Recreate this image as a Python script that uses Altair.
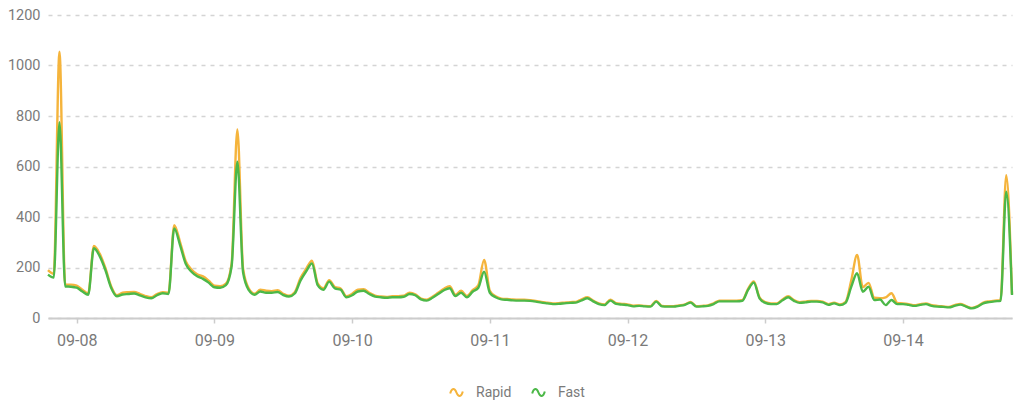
import altair as alt
import pandas as pd

series_names = ["Rapid", "Fast"]
series_colors = ["#f5b43c", "#4cb848"]
start_time = "2023-09-07 19:00"
x_ticks = ["2023-09-08", "2023-09-09", "2023-09-10", "2023-09-11", "2023-09-12", "2023-09-13", "2023-09-14"]
y_ticks = [0, 200, 400, 600, 800, 1000, 1200]

rapid = [190, 175, 1055, 132, 132, 128, 112, 97, 285, 255, 198, 126, 90, 100, 102, 103, 96, 87, 82, 95,
         102, 100, 368, 302, 225, 192, 173, 165, 148, 128, 126, 136, 215, 747, 195, 116, 96, 112, 108, 106,
         110, 96, 88, 102, 158, 195, 227, 137, 118, 150, 123, 117, 86, 96, 112, 114, 100, 89, 85, 83,
         86, 86, 88, 100, 94, 77, 72, 84, 100, 116, 126, 92, 108, 87, 110, 130, 230, 108, 86, 77,
         75, 73, 72, 72, 71, 68, 64, 61, 58, 59, 61, 63, 64, 74, 82, 69, 58, 54, 72, 59,
         56, 54, 49, 50, 48, 47, 68, 48, 47, 47, 50, 54, 64, 47, 48, 50, 58, 69, 69, 69,
         69, 71, 115, 145, 82, 63, 58, 58, 73, 86, 71, 63, 65, 68, 68, 65, 55, 61, 54, 64,
         150, 250, 122, 139, 80, 78, 82, 98, 60, 58, 55, 51, 55, 58, 51, 48, 46, 44, 51, 56,
         47, 40, 47, 61, 66, 69, 71, 566, 95]

fast = [172, 160, 775, 125, 124, 120, 105, 92, 276, 245, 190, 120, 86, 93, 95, 97, 90, 82, 78, 90,
        98, 95, 355, 290, 215, 183, 165, 155, 140, 122, 120, 130, 205, 619, 180, 110, 92, 105, 100, 100,
        103, 91, 85, 97, 148, 185, 216, 130, 112, 144, 117, 112, 82, 90, 105, 108, 95, 85, 82, 80,
        82, 82, 84, 95, 90, 74, 69, 80, 95, 110, 118, 87, 100, 82, 104, 120, 183, 100, 82, 74,
        72, 70, 69, 69, 68, 65, 61, 58, 55, 56, 58, 60, 61, 70, 78, 66, 55, 51, 69, 56,
        53, 51, 46, 48, 46, 45, 65, 46, 45, 45, 48, 52, 61, 45, 46, 48, 55, 66, 66, 66,
        66, 68, 111, 140, 78, 60, 55, 55, 70, 82, 68, 60, 62, 65, 65, 62, 52, 58, 51, 60,
        124, 177, 104, 124, 71, 73, 51, 71, 55, 55, 52, 48, 52, 55, 48, 45, 44, 42, 48, 53,
        45, 38, 45, 58, 63, 66, 68, 500, 91]

times = pd.date_range(start_time, periods=len(fast), freq="h")
df = pd.concat([
    pd.DataFrame({"time": times, "value": rapid, "series": "Rapid"}),
    pd.DataFrame({"time": times, "value": fast, "series": "Fast"}),
])
df["time"] = df["time"].dt.strftime("%Y-%m-%dT%H:%M:%S")

font = "Roboto"
label_color = "#7a7a7a"

wave = "M-1,0.15 C-0.75,-0.75 -0.3,-0.75 0,0 C0.3,0.75 0.75,0.75 1,-0.15"

color = alt.Color(
    "series:N",
    scale=alt.Scale(domain=series_names, range=series_colors),
    legend=alt.Legend(
        title=None, orient="none", direction="horizontal",
        legendX=401, legendY=370,
        symbolType=wave, symbolSize=160, symbolStrokeWidth=2,
        labelFont=font, labelFontSize=14, labelColor=label_color,
        columnPadding=16, labelOffset=12,
    ),
)

x = alt.X(
    "time:T",
    scale=alt.Scale(domain=[times[0].strftime("%Y-%m-%dT%H:%M:%S"), times[-1].strftime("%Y-%m-%dT%H:%M:%S")]),
    axis=alt.Axis(
        title=None, format="%m-%d", values=[pd.Timestamp(t).strftime("%Y-%m-%dT%H:%M:%S") for t in x_ticks],
        grid=False, domainColor="#cccccc", domainWidth=2, tickColor="#cccccc", tickSize=5, tickWidth=1.5,
        labelFont=font, labelFontSize=16, labelColor=label_color, labelPadding=9,
    ),
)
y = alt.Y(
    "value:Q",
    scale=alt.Scale(domain=[0, 1200], nice=False),
    axis=alt.Axis(
        title=None, values=y_ticks, format="d", domain=False, ticks=False,
        grid=True, gridDash=[4, 5], gridColor="#d4d4d4", gridWidth=1.5,
        labelFont=font, labelFontSize=14.5, labelColor=label_color, labelPadding=8,
    ),
)

base = alt.Chart(df)
rapid_line = base.transform_filter(alt.datum.series == "Rapid").mark_line(
    strokeWidth=2.4, interpolate="monotone").encode(x=x, y=y, color=color)
fast_line = base.transform_filter(alt.datum.series == "Fast").mark_line(
    strokeWidth=2.4, interpolate="monotone").encode(x=x, y=y, color=color)

chart = alt.layer(rapid_line, fast_line).properties(
    width=964, height=303,
    padding={"left": 40, "top": 7, "right": 4, "bottom": 83},
    autosize=alt.AutoSizeParams(type="none"),
).configure_view(stroke=None)

chart.save("out.html", embed_options={"renderer": "svg", "actions": False})
